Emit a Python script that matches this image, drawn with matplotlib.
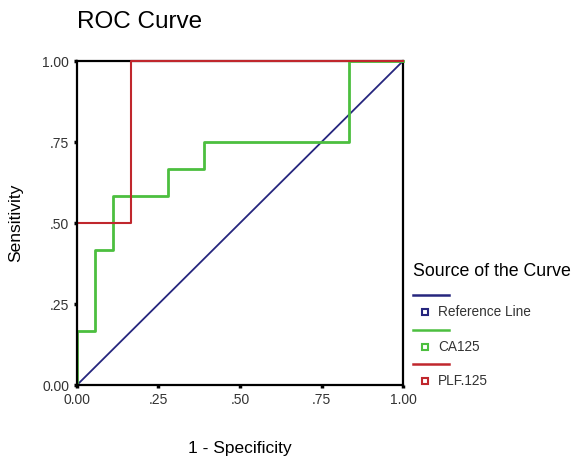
import matplotlib
matplotlib.use("Agg")
import matplotlib.pyplot as plt
from matplotlib.lines import Line2D
from matplotlib.patches import Rectangle

plt.rcParams["font.family"] = ["Liberation Sans", "DejaVu Sans"]

# ROC data (1 - specificity, sensitivity)
ref_x = [0, 1]
ref_y = [0, 1]

ca125_fpr = [0, 0, 0.0556, 0.0556, 0.111, 0.111, 0.278, 0.278, 0.389, 0.389, 0.833, 0.833, 1.0]
ca125_tpr = [0, 0.167, 0.167, 0.417, 0.417, 0.583, 0.583, 0.667, 0.667, 0.75, 0.75, 1.0, 1.0]

plf_fpr = [0, 0, 0.167, 0.167, 1.0]
plf_tpr = [0, 0.5, 0.5, 1.0, 1.0]

ticks = [0, 0.25, 0.5, 0.75, 1.0]
tick_labels = ["0.00", ".25", ".50", ".75", "1.00"]

series_names = ["Reference Line", "CA125", "PLF.125"]
series_colors = ["#26267e", "#4cbf3f", "#c0272d"]

fig = plt.figure(figsize=(5.75, 4.57), dpi=100)
ax = fig.add_axes([0.1339, 0.1575, 0.567, 0.709])

ax.plot(ref_x, ref_y, color=series_colors[0], lw=1.3, zorder=2)
green, = ax.plot(ca125_fpr, ca125_tpr, color=series_colors[1], lw=2.0, zorder=3)
red, = ax.plot(plf_fpr, plf_tpr, color=series_colors[2], lw=1.5, zorder=4)

# let curves run over the top edge, but keep them clipped at the left edge
clip = Rectangle((0, 0), 1.05, 1.05, transform=ax.transAxes, visible=False)
ax.add_patch(clip)
green.set_clip_path(clip)
red.set_clip_path(clip)

ax.set_xlim(0, 1)
ax.set_ylim(0, 1)
ax.set_xticks(ticks)
ax.set_xticklabels(tick_labels)
ax.set_yticks(ticks)
ax.set_yticklabels(tick_labels)
ax.tick_params(length=2.5, width=2.5, labelsize=10, colors="black", labelcolor="#333333", pad=3)
for side, s in ax.spines.items():
    s.set_linewidth(1.6)
    s.set_color("black")
    # left/bottom sit over the curves, top/right under them
    s.set_zorder(6 if side in ("left", "bottom") else 1)

ax.set_xlabel("1 - Specificity", fontsize=12.5, labelpad=25)
ax.set_ylabel("Sensitivity", fontsize=12.5, labelpad=14)
fig.text(0.134, 0.952, "ROC Curve", fontsize=17.5, ha="left", va="center")

# legend, drawn by hand outside the axes
fig.text(413 / 575, 1 - 272 / 457, "Source of the Curve", fontsize=12.8, ha="left", va="center")
line_y = [295, 330, 364]
for i, name in enumerate(series_names):
    y_line = 1 - line_y[i] / 457
    y_mark = 1 - (line_y[i] + 17) / 457
    fig.add_artist(Line2D([413 / 575, 449 / 575], [y_line, y_line],
                          color=series_colors[i], lw=1.8))
    fig.add_artist(Line2D([425 / 575], [y_mark], marker="s", markersize=4,
                          markerfacecolor="white", markeredgecolor=series_colors[i],
                          markeredgewidth=1.5, linestyle="none"))
    fig.text(438 / 575, y_mark, name, fontsize=9.8, ha="left", va="center", color="#333333")

fig.savefig("out.png", dpi=100)
